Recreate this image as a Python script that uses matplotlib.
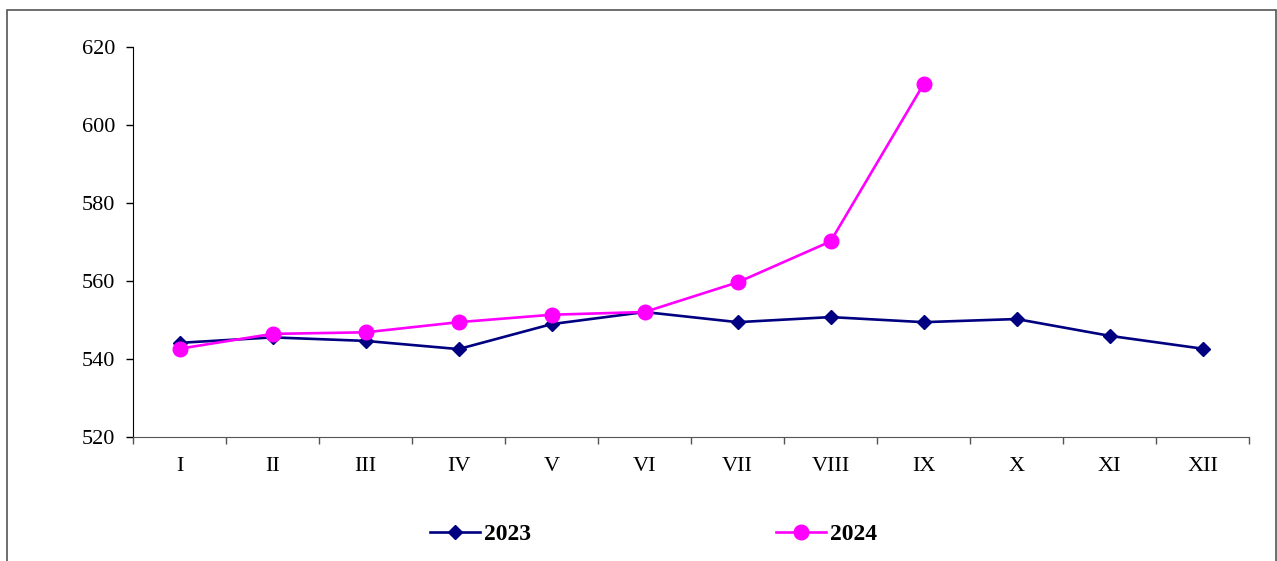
import numpy as np
import matplotlib.pyplot as plt
from matplotlib.patches import Rectangle

months = ['I', 'II', 'III', 'IV', 'V', 'VI', 'VII', 'VIII', 'IX', 'X', 'XI', 'XII']
y2023 = [544.2, 545.6, 544.7, 542.6, 549.0, 552.1, 549.5, 550.8, 549.5, 550.3, 546.0, 542.7]
y2024 = [542.7, 546.5, 546.9, 549.5, 551.4, 552.1, 559.7, 570.2, 610.5]
yticks = [520, 540, 560, 580, 600, 620]

plt.rcParams['font.family'] = ['Liberation Serif', 'DejaVu Serif']

fig = plt.figure(figsize=(12.77, 5.61), dpi=100)
ax = fig.add_axes([0.1042, 0.2205, 0.874, 0.6957])

# outer frame, cut off at the bottom of the picture
fig.patches.append(Rectangle((7 / 1277, -0.05), 1269 / 1277, 1.05 - 10 / 561,
                             transform=fig.transFigure, fill=False,
                             edgecolor='#555555', linewidth=1.2))

x = np.arange(len(months))
ax.plot(x, y2023, color='#000080', linewidth=1.9, marker='D', markersize=7.5,
        label='2023')
ax.plot(x[:len(y2024)], y2024, color='#FF00FF', linewidth=1.9, marker='o',
        markersize=10.5, label='2024')

ax.set_xlim(-0.5, len(months) - 0.5)
ax.set_ylim(520, 620)
ax.set_yticks(yticks)
ax.set_yticklabels([str(v) for v in yticks], fontsize=16)
ax.set_xticks(x)
ax.set_xticklabels(months, fontsize=16)
ax.set_xticks(np.arange(-0.5, len(months)), minor=True)
ax.tick_params(axis='x', which='major', length=0, pad=14)
ax.tick_params(axis='x', which='minor', length=5, color='#555555', width=1)
ax.tick_params(axis='y', length=5, width=1, pad=8)

for s in ['top', 'right']:
    ax.spines[s].set_visible(False)
ax.spines['bottom'].set_color('#555555')
ax.spines['left'].set_color('black')

leg = ax.legend(loc='center', bbox_to_anchor=(0.4664, -0.249), ncol=2,
                frameon=False, prop={'size': 17, 'weight': 'bold'},
                columnspacing=10.4, handlelength=2.1, handletextpad=0.17)

fig.savefig('out.png', dpi=100)
